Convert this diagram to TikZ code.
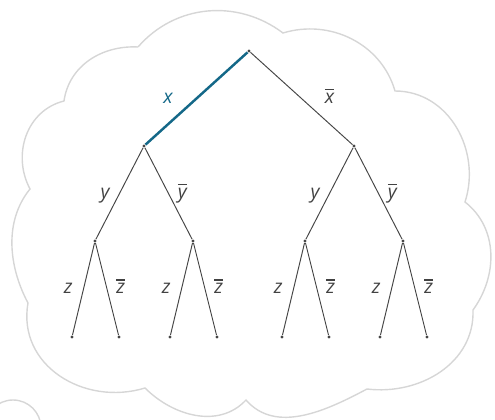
\documentclass[tikz,border=0pt]{standalone}
\usepackage{fontspec}
\setmainfont{Open Sans}
\usepackage{tikz}
\definecolor{cloudgray}{RGB}{214,214,214}
\definecolor{edgegray}{RGB}{70,70,70}
\definecolor{pathteal}{RGB}{20,104,136}
\definecolor{labelgray}{RGB}{66,66,66}
\newcommand{\barred}[1]{\vbox{\hrule height 0.7pt\kern 1.5pt\hbox{#1}}}
\tikzset{
  cloudline/.style={draw=cloudgray,line width=0.8pt},
  treedot/.style={circle,fill=edgegray,inner sep=0pt,minimum size=1.9pt},
  branch/.style={draw=edgegray,line width=0.55pt},
  chosen/.style={draw=pathteal,line width=1.4pt},
  litbase/.style={midway,inner sep=0pt,text=labelgray,font=\fontsize{11}{13}\selectfont\itshape},
  litL/.style={litbase,anchor=mid east,xshift=-#1},
  litR/.style={litbase,anchor=mid west,xshift=#1}
}

\begin{document}
\begin{tikzpicture}[x=0.02cm,y=0.02cm]
  \useasboundingbox (0,0) rectangle (495,420);
  \clip (0,0) rectangle (495,420);

  %% Thought cloud
  \draw[cloudline] (138,373) to[out=49,in=143] (283,387)
    to[out=17,in=106] (395,329)
    to[out=0,in=72,looseness=1.05] (465,218)
    to[out=-38,in=54] (473,110)
    to[out=-88,in=-7,looseness=1.03] (367,31)
    to[out=208,in=311,looseness=0.96] (246,20)
    to[out=227,in=315] (145,32)
    to[out=197,in=260,looseness=1.12] (28,117)
    to[out=118,in=231,looseness=0.93] (30,231)
    to[out=118,in=194,looseness=1.05] (64,319)
    to[out=82,in=177] (138,373);
  \draw[cloudline] (13,-8) circle (28);

  %% Tree nodes
  \node[treedot] (r) at (249,369) {};
  \node[treedot] (a) at (144,274) {};
  \node[treedot] (b) at (354,274) {};
  \node[treedot] (aa) at (95,179) {};
  \node[treedot] (ab) at (193,179) {};
  \node[treedot] (ba) at (305,179) {};
  \node[treedot] (bb) at (403,179) {};
  \node[treedot] (aaa) at (72,83) {};
  \node[treedot] (aab) at (119,83) {};
  \node[treedot] (aba) at (170,83) {};
  \node[treedot] (abb) at (217,83) {};
  \node[treedot] (baa) at (282,83) {};
  \node[treedot] (bab) at (329,83) {};
  \node[treedot] (bba) at (380,83) {};
  \node[treedot] (bbb) at (427,83) {};

  %% Branches
  \draw[chosen] (r) -- node[litL=0.45cm,text=pathteal] {x} (a);
  \draw[branch] (r) -- node[litR=0.46cm] {\barred{x}} (b);
  \draw[branch] (a) -- node[litL=0.19cm] {y} (aa);
  \draw[branch] (a) -- node[litR=0.18cm] {\barred{y}} (ab);
  \draw[branch] (b) -- node[litL=0.19cm] {y} (ba);
  \draw[branch] (b) -- node[litR=0.18cm] {\barred{y}} (bb);
  \draw[branch] (aa) -- node[litL=0.21cm] {z} (aaa);
  \draw[branch] (aa) -- node[litR=0.18cm] {\barred{z}} (aab);
  \draw[branch] (ab) -- node[litL=0.21cm] {z} (aba);
  \draw[branch] (ab) -- node[litR=0.18cm] {\barred{z}} (abb);
  \draw[branch] (ba) -- node[litL=0.21cm] {z} (baa);
  \draw[branch] (ba) -- node[litR=0.18cm] {\barred{z}} (bab);
  \draw[branch] (bb) -- node[litL=0.21cm] {z} (bba);
  \draw[branch] (bb) -- node[litR=0.18cm] {\barred{z}} (bbb);
\end{tikzpicture}
\end{document}
